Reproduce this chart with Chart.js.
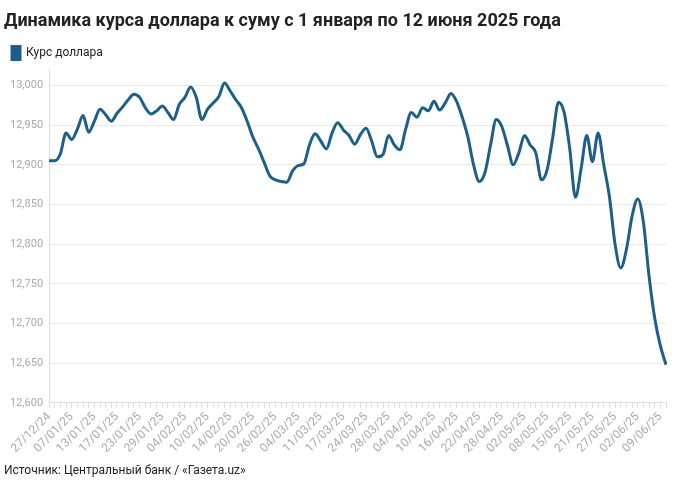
<!DOCTYPE html>
<html>
<head>
<meta charset="utf-8">
<script src="https://cdn.jsdelivr.net/npm/chart.js@4/dist/chart.umd.min.js"></script>
<style>
  html, body { margin: 0; padding: 0; background: #fff; }
  #wrap { width: 680px; height: 488px; }
</style>
</head>
<body>
<div id="wrap"><canvas id="chart"></canvas></div>
<script>
// tick labels shown under every 4th point
const tickLabels = [
    '27/12/24', '07/01/25', '13/01/25', '17/01/25', '23/01/25', '29/01/25', '04/02/25', '10/02/25',
    '14/02/25', '20/02/25', '26/02/25', '04/03/25', '11/03/25', '17/03/25', '24/03/25', '28/03/25',
    '04/04/25', '10/04/25', '16/04/25', '22/04/25', '28/04/25', '02/05/25', '08/05/25', '15/05/25',
    '21/05/25', '27/05/25', '02/06/25', '09/06/25'
];

// usd/uzs rate, one value per business day
const rates = [
    12905, 12905, 12914, 12940, 12932, 12945, 12962, 12941, 12955, 12970,
    12963, 12955, 12965, 12973, 12982, 12989, 12985, 12972, 12964, 12968,
    12974, 12966, 12957, 12976, 12985, 12998, 12985, 12957, 12970, 12978,
    12986, 13003, 12993, 12982, 12972, 12955, 12935, 12920, 12903, 12886,
    12881, 12879, 12878, 12892, 12899, 12901, 12925, 12939, 12930, 12920,
    12940, 12953, 12944, 12937, 12926, 12938, 12946, 12930, 12910, 12913,
    12937, 12925, 12919, 12945, 12966, 12960, 12972, 12968, 12980, 12969,
    12978, 12990, 12980, 12960, 12935, 12900, 12879, 12890, 12925, 12957,
    12948, 12924, 12900, 12915, 12937, 12925, 12915, 12881, 12894, 12935,
    12979, 12966, 12920, 12859, 12895, 12937, 12904, 12940, 12900, 12860,
    12800, 12770, 12793, 12835, 12857, 12828, 12760, 12707, 12672, 12648
];

const labels = rates.map((v, i) => (i % 4 === 0 && tickLabels[i / 4]) ? tickLabels[i / 4] : '');
const lineColor = '#1c5f8a';

new Chart(document.getElementById('chart'), {
    type: 'line',
    data: {
        labels: labels,
        datasets: [{
            label: 'Курс доллара',
            data: rates,
            borderColor: lineColor,
            backgroundColor: lineColor,
            borderWidth: 3,
            pointRadius: 0,
            cubicInterpolationMode: 'monotone'
        }]
    },
    options: {
        responsive: true,
        maintainAspectRatio: false,
        animation: false,
        layout: { padding: { left: 4, right: 14, top: 2, bottom: 4 } },
        plugins: {
            title: {
                display: true,
                text: 'Динамика курса доллара к суму с 1 января по 12 июня 2025 года',
                align: 'start',
                color: '#222',
                font: { family: 'Roboto', size: 18, weight: 'bold' },
                padding: { top: 9, bottom: 6 }
            },
            subtitle: {
                display: true,
                position: 'bottom',
                text: 'Источник: Центральный банк / «Газета.uz»',
                align: 'start',
                color: '#222',
                font: { family: 'Roboto', size: 12 },
                padding: { top: 6, bottom: 6 }
            },
            legend: {
                align: 'start',
                labels: {
                    boxWidth: 8,
                    boxHeight: 13,
                    color: '#222',
                    font: { family: 'Roboto', size: 12 },
                    padding: 8
                }
            },
            tooltip: { enabled: false }
        },
        scales: {
            x: {
                grid: { drawOnChartArea: false, tickLength: 5, color: '#ddd' },
                border: { color: '#ddd' },
                ticks: {
                    autoSkip: false,
                    maxRotation: 45,
                    minRotation: 45,
                    color: '#aaa',
                    font: { family: 'Roboto', size: 12 },
                    padding: 2
                }
            },
            y: {
                min: 12600,
                max: 13020,
                afterBuildTicks: (axis) => {
                    axis.ticks = axis.ticks.filter(t => t.value % 50 === 0);
                },
                grid: { color: '#e8e8e8', drawTicks: false },
                border: { display: true, color: '#ddd' },
                ticks: {
                    stepSize: 50,
                    color: '#a8a8a8',
                    padding: 6,
                    font: { family: 'Roboto', size: 11 },
                    callback: (v) => v.toLocaleString('en-US')
                }
            }
        }
    }
});
</script>
</body>
</html>
